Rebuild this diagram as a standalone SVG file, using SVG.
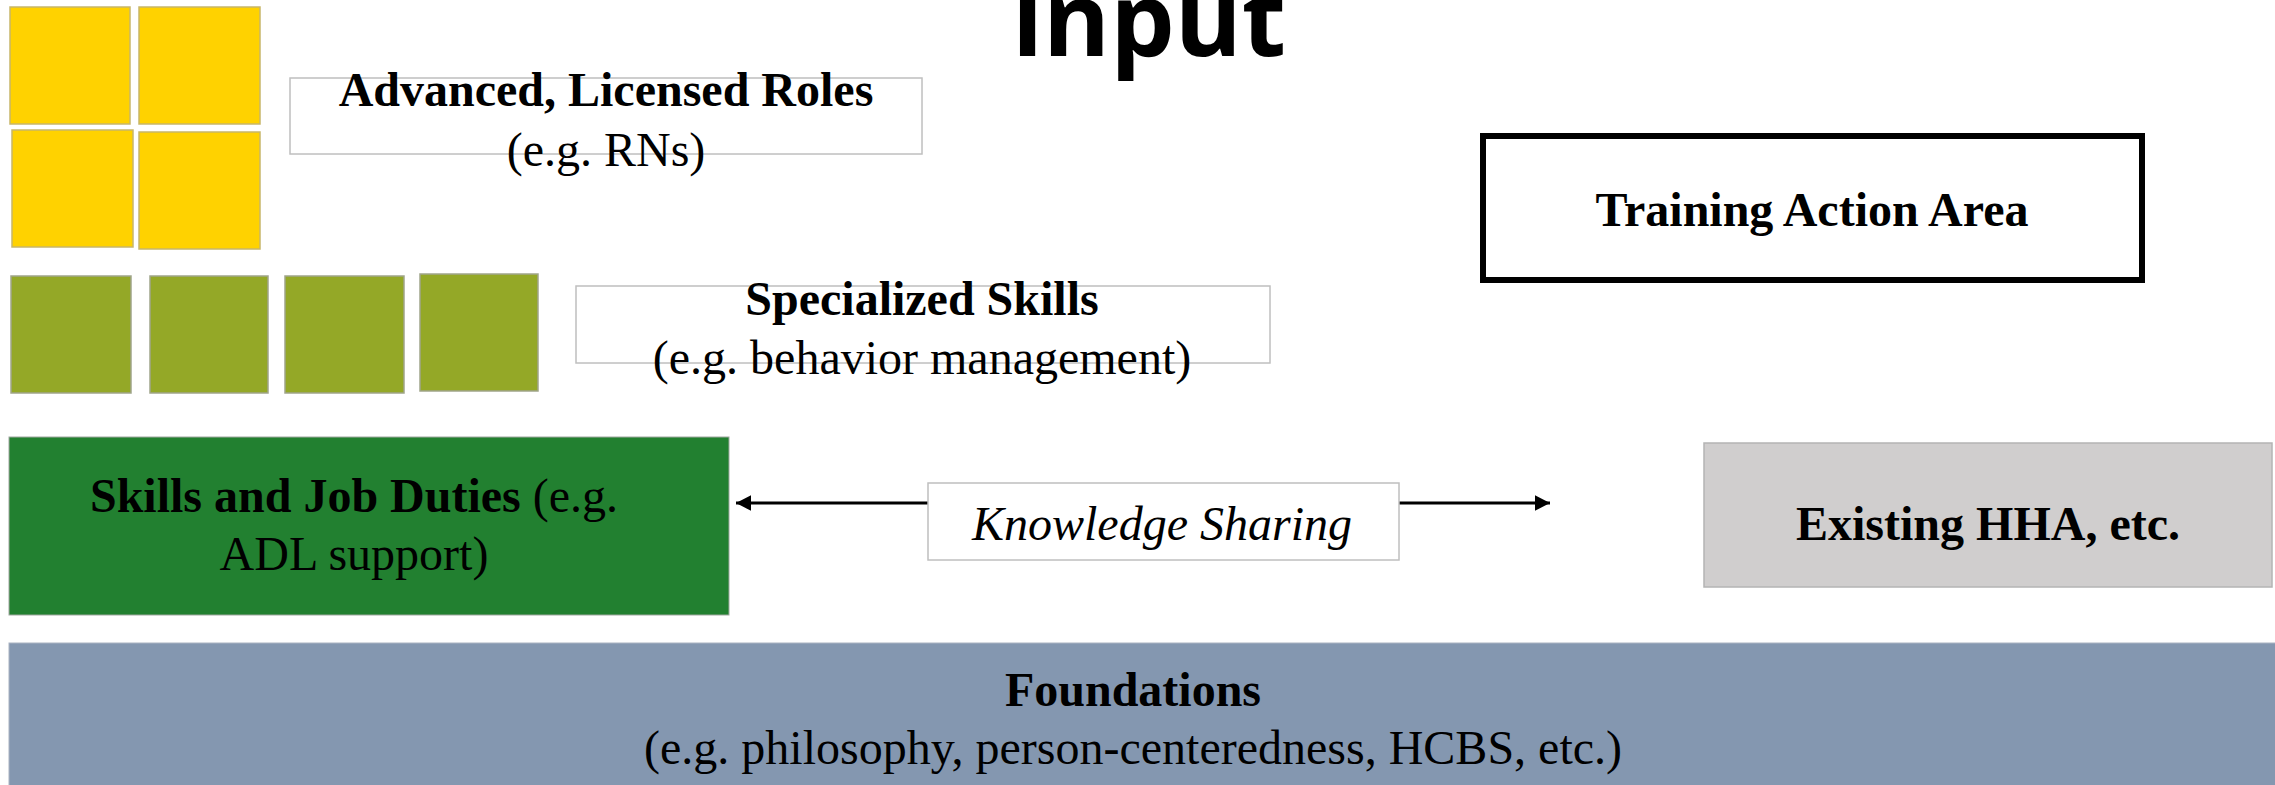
<svg xmlns="http://www.w3.org/2000/svg" width="2275" height="785" viewBox="0 0 2275 785">
  <style>
    .lbl { font-family: "Liberation Serif", "Times New Roman", serif; font-size: 48px; fill: #000; text-anchor: middle; }
    .b { font-weight: bold; }
    .i { font-style: italic; }
    .title { font-family: "Open Sans", "DejaVu Sans", sans-serif; font-weight: 700; font-size: 102px; fill: #000; text-anchor: middle; }
    .tile-y { fill: #FFD200; stroke: #C8B66A; stroke-width: 1.5; }
    .tile-g { fill: #94A827; stroke: #A0A58A; stroke-width: 1.5; }
    .caption { fill: #FFFFFF; stroke: #BFBFBF; stroke-width: 1.5; }
    .conn { stroke: #000; stroke-width: 3; fill: none; }
  </style>
  <defs>
    <marker id="arrowEnd" markerWidth="6" markerHeight="6" refX="5" refY="3" orient="auto" markerUnits="strokeWidth">
      <path d="M0,0.4 L5,3 L0,5.6 Z" fill="#000"/>
    </marker>
    <marker id="arrowStart" markerWidth="6" markerHeight="6" refX="0" refY="3" orient="auto" markerUnits="strokeWidth">
      <path d="M5,0.4 L0,3 L5,5.6 Z" fill="#000"/>
    </marker>
  </defs>

  <rect width="2275" height="785" fill="#FFFFFF"/>

  <!-- heading, clipped at the top edge -->
  <g id="title">
    <text class="title" x="1149" y="56">input</text>
  </g>

  <!-- licensed-role tiles -->
  <g id="licensed-tiles">
    <rect class="tile-y" x="10" y="7" width="120" height="117"/>
    <rect class="tile-y" x="139" y="7" width="121" height="117"/>
    <rect class="tile-y" x="12" y="130" width="121" height="117"/>
    <rect class="tile-y" x="139" y="132" width="121" height="117"/>
  </g>

  <g id="advanced-roles">
    <rect class="caption" x="290" y="78" width="632" height="76"/>
    <text class="lbl b" x="606" y="106">Advanced, Licensed Roles</text>
    <text class="lbl" x="606" y="166">(e.g. RNs)</text>
  </g>

  <!-- specialized-skill tiles -->
  <g id="specialized-tiles">
    <rect class="tile-g" x="11" y="276" width="120" height="117"/>
    <rect class="tile-g" x="150" y="276" width="118" height="117"/>
    <rect class="tile-g" x="285" y="276" width="119" height="117"/>
    <rect class="tile-g" x="420" y="274" width="118" height="117"/>
  </g>

  <g id="specialized-skills">
    <rect class="caption" x="576" y="286" width="694" height="77"/>
    <text class="lbl b" x="922" y="315">Specialized Skills</text>
    <text class="lbl" x="922" y="374">(e.g. behavior management)</text>
  </g>

  <g id="training-action-area">
    <rect x="1483" y="136" width="659" height="144" fill="#FFFFFF" stroke="#000" stroke-width="6"/>
    <text class="lbl b" x="1812" y="226">Training Action Area</text>
  </g>

  <!-- connectors -->
  <g id="connectors">
    <line class="conn" x1="736" y1="503" x2="1550" y2="503" marker-start="url(#arrowStart)" marker-end="url(#arrowEnd)"/>
  </g>

  <g id="skills-job-duties">
    <rect x="9" y="437" width="720" height="178" fill="#228030" stroke="#9FA89F" stroke-width="1"/>
    <text class="lbl" x="354" y="512"><tspan class="b">Skills and Job Duties</tspan> (e.g.</text>
    <text class="lbl" x="354" y="570">ADL support)</text>
  </g>

  <g id="knowledge-sharing">
    <rect class="caption" x="928" y="483" width="471" height="77"/>
    <text class="lbl i" x="1162" y="540">Knowledge Sharing</text>
  </g>

  <g id="existing-hha">
    <rect x="1704" y="443" width="568" height="144" fill="#D0CECE" stroke="#B4B4B4" stroke-width="1.5"/>
    <text class="lbl b" x="1988" y="540">Existing HHA, etc.</text>
  </g>

  <g id="foundations">
    <rect x="9" y="643" width="2270" height="150" fill="#8497B0" stroke="#A9B3C2" stroke-width="1"/>
    <text class="lbl b" x="1133" y="706">Foundations</text>
    <text class="lbl" x="1133" y="764">(e.g. philosophy, person-centeredness, HCBS, etc.)</text>
  </g>
</svg>
